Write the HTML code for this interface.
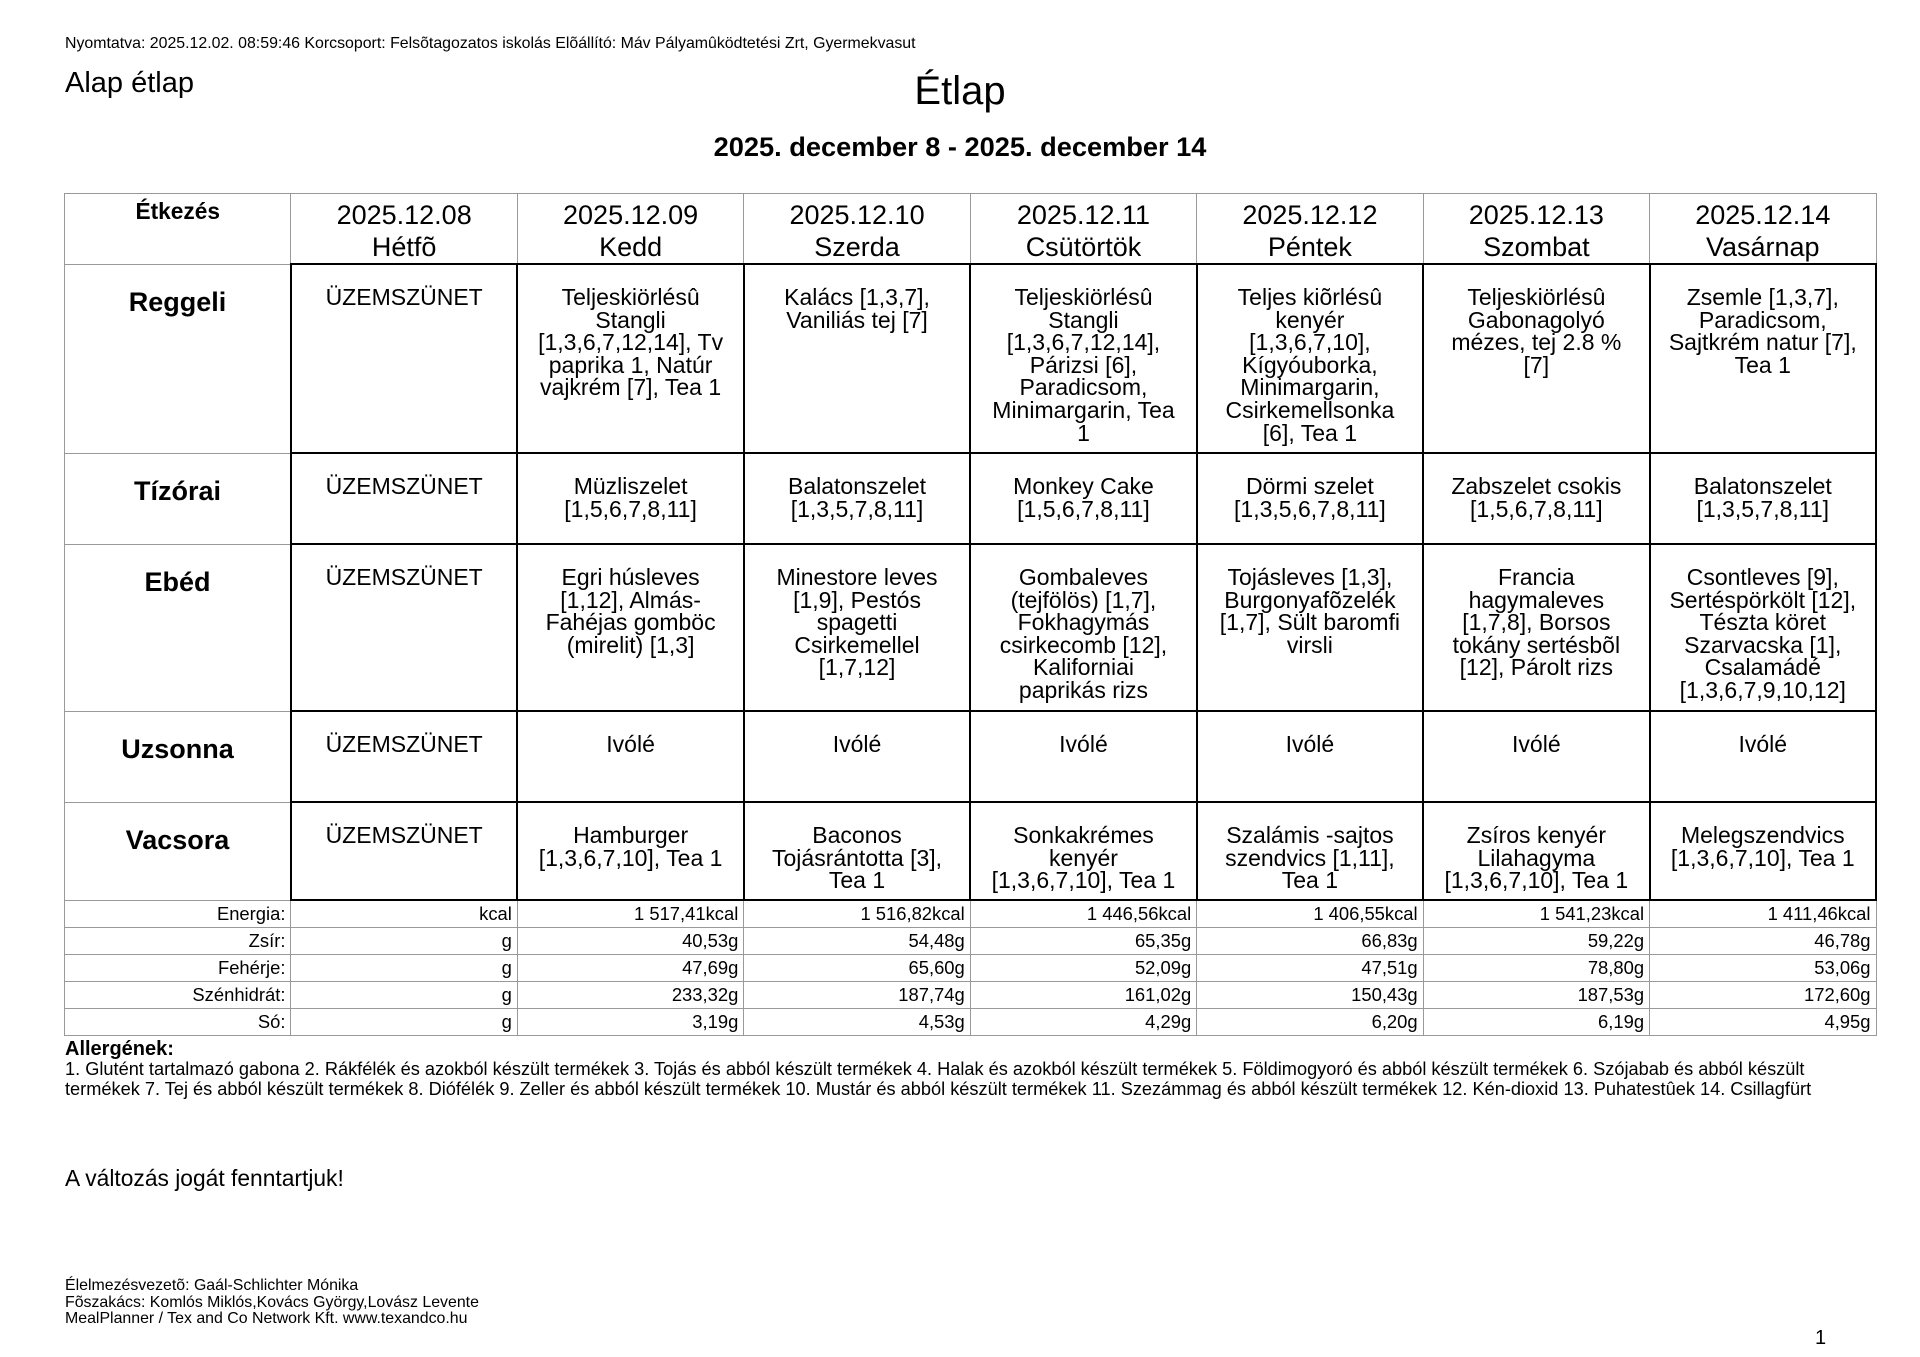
<!DOCTYPE html>
<html><head><meta charset="utf-8"><style>
body{margin:0;width:1920px;height:1357px;background:#fff;position:relative;font-family:"Liberation Sans",Arial,sans-serif;color:#000;overflow:hidden}
.a{position:absolute;white-space:nowrap}
table{position:absolute;left:64px;top:193px;width:1813px;border-collapse:collapse;table-layout:fixed}
td{border:1px solid #999;vertical-align:top;text-align:center;padding:0;overflow:hidden}
.h td{font-size:27px;line-height:32px;padding-top:5px}
.h td.e{font-size:22.7px;font-weight:bold;line-height:26px;padding-top:4px}
td.l{font-size:27px;font-weight:bold;padding-top:23px;line-height:28px}
td.m{border:2px solid #000;font-size:23px;line-height:22.6px;padding:21px 14px 0}
.n td{font-size:18.4px;text-align:right;vertical-align:middle;padding:0 5px;height:26px;line-height:20px}
</style></head><body>
<div class="a" style="left:65px;top:35px;font-size:15.9px">Nyomtatva: 2025.12.02. 08:59:46 Korcsoport: Felsõtagozatos iskolás Elõállító: Máv Pályamûködtetési Zrt, Gyermekvasut</div>
<div class="a" style="left:65px;top:67px;font-size:29px">Alap étlap</div>
<div class="a" style="left:0;width:1920px;text-align:center;top:69px;font-size:40px">Étlap</div>
<div class="a" style="left:0;width:1920px;text-align:center;top:131px;font-size:27.2px;font-weight:bold">2025. december 8 - 2025. december 14</div>
<table>
<colgroup><col><col><col><col><col><col><col><col></colgroup>
<tr class="h" style="height:69px"><td class="e">Étkezés</td><td>2025.12.08<br>Hétfõ</td><td>2025.12.09<br>Kedd</td><td>2025.12.10<br>Szerda</td><td>2025.12.11<br>Csütörtök</td><td>2025.12.12<br>Péntek</td><td>2025.12.13<br>Szombat</td><td>2025.12.14<br>Vasárnap</td></tr>
<tr style="height:189px"><td class="l">Reggeli</td><td class="m">ÜZEMSZÜNET</td><td class="m">Teljeskiörlésû Stangli [1,3,6,7,12,14], Tv paprika 1, Natúr vajkrém [7], Tea 1</td><td class="m">Kalács [1,3,7], Vaniliás tej [7]</td><td class="m">Teljeskiörlésû Stangli [1,3,6,7,12,14], Párizsi [6], Paradicsom, Minimargarin, Tea 1</td><td class="m">Teljes kiõrlésû kenyér [1,3,6,7,10], Kígyóuborka, Minimargarin, Csirkemellsonka [6], Tea 1</td><td class="m">Teljeskiörlésû Gabonagolyó mézes, tej 2.8 % [7]</td><td class="m">Zsemle [1,3,7], Paradicsom, Sajtkrém natur [7], Tea 1</td></tr>
<tr style="height:91px"><td class="l">Tízórai</td><td class="m">ÜZEMSZÜNET</td><td class="m">Müzliszelet [1,5,6,7,8,11]</td><td class="m">Balatonszelet [1,3,5,7,8,11]</td><td class="m">Monkey Cake [1,5,6,7,8,11]</td><td class="m">Dörmi szelet [1,3,5,6,7,8,11]</td><td class="m">Zabszelet csokis [1,5,6,7,8,11]</td><td class="m">Balatonszelet [1,3,5,7,8,11]</td></tr>
<tr style="height:167px"><td class="l">Ebéd</td><td class="m">ÜZEMSZÜNET</td><td class="m">Egri húsleves [1,12], Almás-Fahéjas gomböc (mirelit) [1,3]</td><td class="m">Minestore leves [1,9], Pestós spagetti Csirkemellel [1,7,12]</td><td class="m">Gombaleves (tejfölös) [1,7], Fokhagymás csirkecomb [12], Kaliforniai<br>paprikás rizs</td><td class="m">Tojásleves [1,3], Burgonyafõzelék [1,7], Sült baromfi virsli</td><td class="m">Francia hagymaleves [1,7,8], Borsos tokány sertésbõl [12], Párolt rizs</td><td class="m">Csontleves [9], Sertéspörkölt [12], Tészta köret Szarvacska [1], Csalamádé [1,3,6,7,9,10,12]</td></tr>
<tr style="height:91px"><td class="l">Uzsonna</td><td class="m">ÜZEMSZÜNET</td><td class="m">Ivólé</td><td class="m">Ivólé</td><td class="m">Ivólé</td><td class="m">Ivólé</td><td class="m">Ivólé</td><td class="m">Ivólé</td></tr>
<tr style="height:98px"><td class="l">Vacsora</td><td class="m">ÜZEMSZÜNET</td><td class="m">Hamburger [1,3,6,7,10], Tea 1</td><td class="m">Baconos Tojásrántotta [3], Tea 1</td><td class="m">Sonkakrémes kenyér [1,3,6,7,10], Tea 1</td><td class="m">Szalámis -sajtos szendvics [1,11], Tea 1</td><td class="m">Zsíros kenyér Lilahagyma [1,3,6,7,10], Tea 1</td><td class="m">Melegszendvics [1,3,6,7,10], Tea 1</td></tr>
<tr class="n"><td>Energia:</td><td>kcal</td><td>1 517,41kcal</td><td>1 516,82kcal</td><td>1 446,56kcal</td><td>1 406,55kcal</td><td>1 541,23kcal</td><td>1 411,46kcal</td></tr>
<tr class="n"><td>Zsír:</td><td>g</td><td>40,53g</td><td>54,48g</td><td>65,35g</td><td>66,83g</td><td>59,22g</td><td>46,78g</td></tr>
<tr class="n"><td>Fehérje:</td><td>g</td><td>47,69g</td><td>65,60g</td><td>52,09g</td><td>47,51g</td><td>78,80g</td><td>53,06g</td></tr>
<tr class="n"><td>Szénhidrát:</td><td>g</td><td>233,32g</td><td>187,74g</td><td>161,02g</td><td>150,43g</td><td>187,53g</td><td>172,60g</td></tr>
<tr class="n"><td>Só:</td><td>g</td><td>3,19g</td><td>4,53g</td><td>4,29g</td><td>6,20g</td><td>6,19g</td><td>4,95g</td></tr>
</table>
<div class="a" style="left:65px;top:1038px;font-size:20px;font-weight:bold">Allergének:</div>
<div class="a" style="left:65px;top:1060px;font-size:18.2px;line-height:19.6px">1. Glutént tartalmazó gabona 2. Rákfélék és azokból készült termékek 3. Tojás és abból készült termékek 4. Halak és azokból készült termékek 5. Földimogyoró és abból készült termékek 6. Szójabab és abból készült<br>termékek 7. Tej és abból készült termékek 8. Diófélék 9. Zeller és abból készült termékek 10. Mustár és abból készült termékek 11. Szezámmag és abból készült termékek 12. Kén-dioxid 13. Puhatestûek 14. Csillagfürt</div>
<div class="a" style="left:65px;top:1165px;font-size:22.8px">A változás jogát fenntartjuk!</div>
<div class="a" style="left:65px;top:1278px;font-size:15.9px;line-height:16.5px">Élelmezésvezetõ: Gaál-Schlichter Mónika<br>Fõszakács: Komlós Miklós,Kovács György,Lovász Levente<br>MealPlanner / Tex and Co Network Kft. www.texandco.hu</div>
<div class="a" style="left:1815px;top:1327px;font-size:20px">1</div>
</body></html>
